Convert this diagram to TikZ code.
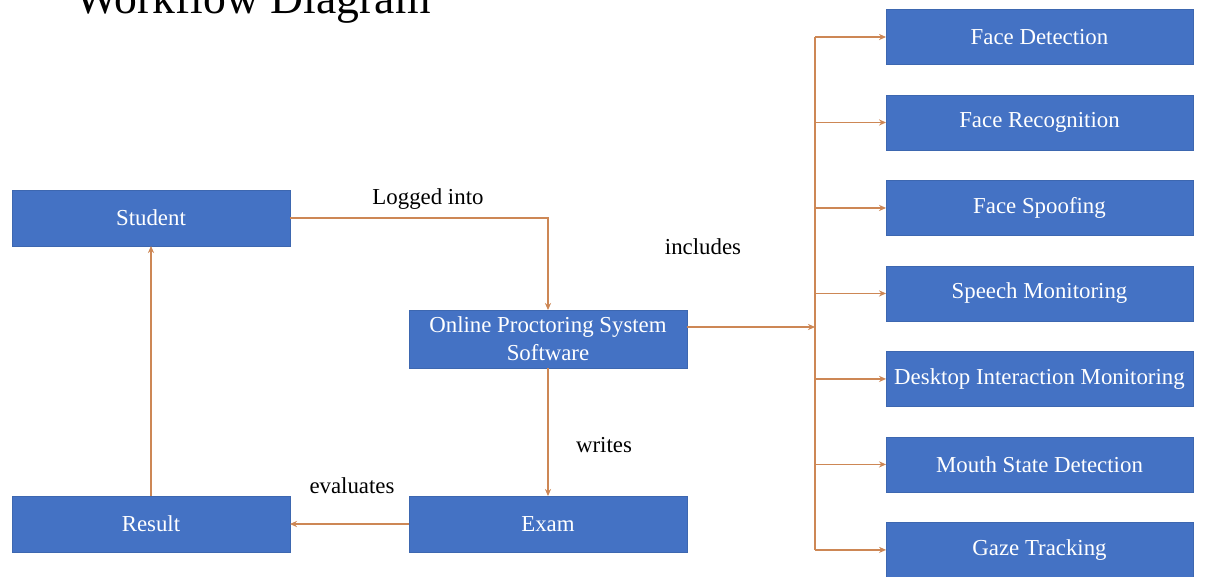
\documentclass[tikz,border=0pt]{standalone}
\usepackage{fontspec}
\setmainfont{Liberation Serif}
\usetikzlibrary{positioning}
\usetikzlibrary{arrows.meta}
\definecolor{boxblue}{RGB}{68,114,196}
\definecolor{linkorange}{RGB}{205,135,85}

\begin{document}
\begin{tikzpicture}[x=0.02cm,y=-0.02cm,
    box/.style={fill=boxblue,draw=boxblue!90!black,line width=0.3pt,text=white,minimum width=5.56cm,minimum height=1.12cm,inner sep=2pt,align=center,font=\fontsize{13}{16}\selectfont,outer sep=0pt},
    wide/.style={minimum width=6.14cm,minimum height=1.1cm},
    lbl/.style={font=\fontsize{13}{15}\selectfont,inner sep=0pt},
    link/.style={draw=linkorange,line width=0.7pt,-{Stealth[length=4pt,width=3.5pt]}},
    trunk/.style={draw=linkorange,line width=0.7pt}]
    \clip (0,0) rectangle (1208,576);
    \fill[white] (0,0) rectangle (1208,576);
    %
    \node[anchor=base west,inner sep=0pt,font=\fontsize{26}{30}\selectfont](title) at (75,13){Workflow Diagram};
    %
    \node[box](stu) at (151,218){Student};
    \node[box,minimum height=1.16cm](opss) at (548,339){Online Proctoring System\\Software};
    \node[box](exam) at (548,524){Exam};
    \node[box](res) at (151,524){Result};
    %
    \node[box,wide](fd) at (1039.5,37){Face Detection};
    \node[box,wide,below=0.61cm of fd](fr){Face Recognition};
    \node[box,wide,below=0.61cm of fr](fs){Face Spoofing};
    \node[box,wide,below=0.61cm of fs](sm){Speech Monitoring};
    \node[box,wide,below=0.61cm of sm](dim){Desktop Interaction Monitoring};
    \node[box,wide,below=0.61cm of dim](msd){Mouth State Detection};
    \node[box,wide,below=0.61cm of msd](gt){Gaze Tracking};
    %
    \coordinate(hub) at (815,327);
    %
    \draw[link] (stu.east) -| (opss.north);
    \node[lbl](logged) at (428,199){Logged into};
    %
    \draw[link] (opss.south) -- (exam.north);
    \node[lbl](writes) at (604,445){writes};
    %
    \draw[link] (exam.west) -- (res.east);
    \node[lbl](evals) at (352,486){evaluates};
    %
    \draw[link] (res.north) -- (stu.south);
    %
    \draw[link] (opss.east |- hub) -- (hub);
    \node[lbl](incl) at (703,247){includes};
    \draw[trunk] (fd.west -| hub) -- (gt.west -| hub);
    \foreach \n in {fd,fr,fs,sm,dim,msd,gt}
        \draw[link] (\n.west -| hub) -- (\n.west);
    %
\end{tikzpicture}
\end{document}
